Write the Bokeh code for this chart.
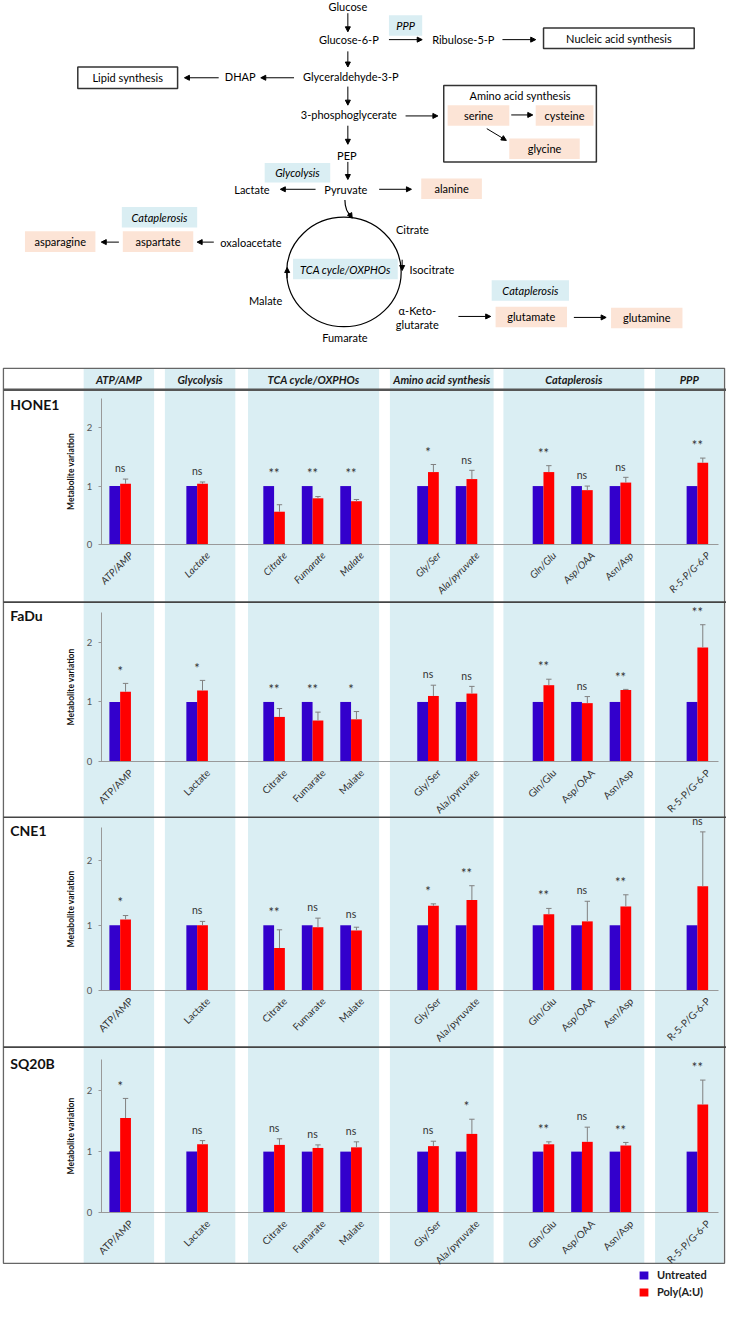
import math
from bokeh.plotting import figure
from bokeh.models import (Range1d, LinearAxis, FixedTicker, Arrow, NormalHead,
                          Legend, LegendItem)
from bokeh.core.properties import value
from bokeh.embed import file_html
from bokeh.resources import INLINE

# ---------------- data ----------------
cell_lines = ["HONE1", "FaDu", "CNE1", "SQ20B"]
group_names = ["ATP/AMP", "Glycolysis", "TCA cycle/OXPHOs",
               "Amino acid synthesis", "Cataplerosis", "PPP"]
group_members = [["ATP/AMP"], ["Lactate"], ["Citrate", "Fumarate", "Malate"],
                 ["Gly/Ser", "Ala/pyruvate"], ["Gln/Glu", "Asp/OAA", "Asn/Asp"],
                 ["R-5-P/G-6-P"]]
untreated = [1.0] * 11

hone1_polyau = [1.04, 1.04, 0.56, 0.79, 0.74, 1.24, 1.12, 1.24, 0.93, 1.06, 1.40]
hone1_err = [0.08, 0.03, 0.12, 0.03, 0.03, 0.13, 0.15, 0.11, 0.07, 0.09, 0.08]
hone1_sig = ["ns", "ns", "**", "**", "**", "*", "ns", "**", "ns", "ns", "**"]

fadu_polyau = [1.17, 1.19, 0.75, 0.69, 0.71, 1.10, 1.14, 1.28, 0.98, 1.20, 1.91]
fadu_err = [0.14, 0.17, 0.14, 0.14, 0.13, 0.18, 0.12, 0.10, 0.11, 0.01, 0.38]
fadu_sig = ["*", "*", "**", "**", "*", "ns", "ns", "**", "ns", "**", "**"]

cne1_polyau = [1.09, 1.00, 0.65, 0.97, 0.92, 1.30, 1.39, 1.17, 1.06, 1.29, 1.60]
cne1_err = [0.06, 0.06, 0.28, 0.14, 0.05, 0.03, 0.22, 0.09, 0.31, 0.18, 0.84]
cne1_sig = ["*", "ns", "**", "ns", "ns", "*", "**", "**", "ns", "**", "ns"]

sq20b_polyau = [1.55, 1.12, 1.11, 1.06, 1.07, 1.09, 1.29, 1.12, 1.16, 1.10, 1.77]
sq20b_err = [0.32, 0.06, 0.10, 0.05, 0.09, 0.08, 0.24, 0.04, 0.24, 0.05, 0.40]
sq20b_sig = ["*", "ns", "ns", "ns", "ns", "ns", "*", "**", "ns", "**", "**"]

y_ticks = [0, 1, 2]

polyau = [hone1_polyau, fadu_polyau, cne1_polyau, sq20b_polyau]
errs = [hone1_err, fadu_err, cne1_err, sq20b_err]
sigs = [hone1_sig, fadu_sig, cne1_sig, sq20b_sig]

# ---------------- layout constants (reference pixel space) ----------------
W_REF, H_REF = 742, 1329
FIG_W = 726
FIG_H = round(H_REF * FIG_W / W_REF)
SLOT0_X, SLOT_W = 122.3, 39.33
AXIS_X = 103
BW = 0.28
LABEL_SHIFT = 0.28
PANEL_BASE = [556, 778.3, 1011.7, 1239.3]
PANEL_UNIT = [59.6, 61.2, 66.3, 62.5]
PANEL_LABEL_Y = [413, 629, 849, 1087]
BAND_EDGES = [(85, 157), (168, 240), (253, 387), (398, 504), (514, 658), (669, 739)]
TABLE = (3, 740, 376, 1291)
HEADER_LINE = 398
SEPARATORS = [615, 835, 1070]
BAND_COLOR = "#DAEEF3"
PEACH = "#FCE4D6"
BLUE = "#3300CC"
RED = "#FF0000"
FONT = "Lato"

# slots: one empty slot between groups
metabolites, slots = [], []
s = 0
for gi, mem in enumerate(group_members):
    if gi > 0:
        s += 1
    for m in mem:
        metabolites.append(m)
        slots.append(s)
        s += 1

p = figure(width=FIG_W, height=FIG_H, x_range=Range1d(0, W_REF),
           y_range=Range1d(H_REF, 0), output_backend="svg", toolbar_location=None,
           x_axis_location=None, y_axis_location=None, min_border=0)
p.outline_line_color = None
p.grid.grid_line_color = None

p.extra_x_ranges = {"slots": Range1d((0 - SLOT0_X) / SLOT_W, (W_REF - SLOT0_X) / SLOT_W)}
for k in range(4):
    B, U = PANEL_BASE[k], PANEL_UNIT[k]
    p.extra_y_ranges[f"p{k}"] = Range1d((B - H_REF) / U, B / U)

# ---------------- diagram ----------------
def txt(x, y, t, size="11px", style="normal", align="center", color="#000000"):
    p.text(x=[x], y=[y], text=[t], text_font=value(FONT), text_font_size=size,
           text_font_style=style, text_align=align, text_baseline="middle",
           text_color=color)

def box(x0, x1, y0, y1, fill=None, line=None, lw=1.2):
    p.quad(left=[x0], right=[x1], top=[y0], bottom=[y1],
           fill_color=fill if fill else None, fill_alpha=1 if fill else 0,
           line_color=line, line_width=lw)

def arrow(x0, y0, x1, y1):
    p.add_layout(Arrow(end=NormalHead(size=5, fill_color="black", line_color="black",
                                      line_width=1),
                       x_start=x0, y_start=y0, x_end=x1, y_end=y1,
                       line_color="black", line_width=1))

nodes = [("Glucose", 355, 6), ("Glucose-6-P", 356, 40), ("Ribulose-5-P", 473, 40),
         ("Glyceraldehyde-3-P", 358, 78), ("DHAP", 245, 78),
         ("3-phosphoglycerate", 356, 117), ("PEP", 354, 158), ("Pyruvate", 353, 193),
         ("Lactate", 257, 193), ("Citrate", 421, 234), ("Isocitrate", 441, 275),
         ("Malate", 271, 307), ("Fumarate", 352, 345), ("oxaloacetate", 256, 247),
         ("α-Keto-", 426, 317), ("glutarate", 426, 331)]

blue_boxes = [("PPP", 397, 431, 15, 36), ("Glycolysis", 270, 337, 166, 186),
              ("Cataplerosis", 124, 201, 211, 232), ("TCA cycle/OXPHOs", 299, 406, 264, 285),
              ("Cataplerosis", 502, 581, 286, 307)]
peach_boxes = [("serine", 457, 520, 107, 128), ("cysteine", 547, 606, 107, 128),
               ("glycine", 520, 592, 141, 162), ("alanine", 430, 492, 182, 203),
               ("asparagine", 25, 97, 236, 257), ("aspartate", 125, 197, 236, 257),
               ("glutamate", 506, 579, 313, 334), ("glutamine", 624, 697, 314, 335)]
outline_boxes = [("Nucleic acid synthesis", 555, 709, 28, 49),
                 ("Lipid synthesis", 79, 181, 68, 90)]

for t, x0, x1, y0, y1 in blue_boxes:
    box(x0, x1, y0, y1, fill=BAND_COLOR)
    txt((x0 + x1) / 2, (y0 + y1) / 2, t, style="italic")
for t, x0, x1, y0, y1 in peach_boxes:
    box(x0, x1, y0, y1, fill=PEACH)
    txt((x0 + x1) / 2, (y0 + y1) / 2, t)
for t, x0, x1, y0, y1 in outline_boxes:
    box(x0, x1, y0, y1, line="#333333", lw=1.5)
    txt((x0 + x1) / 2, (y0 + y1) / 2, t)
box(453, 609, 87, 165, line="#333333", lw=1.5)
txt(531, 97, "Amino acid synthesis")
for t, x, y in nodes:
    txt(x, y, t)

arrows = [(355, 13, 355, 32), (397, 40, 431, 40), (513, 40, 547, 40),
          (355, 52, 355, 68), (300, 79, 266, 79), (223, 79, 188, 79),
          (355, 88, 355, 107), (414, 118, 447, 118), (522, 117, 544, 117),
          (497, 131, 517, 143), (355, 128, 355, 147), (355, 165, 355, 183),
          (322, 193, 286, 193), (387, 193, 420, 193), (218, 247, 201, 247),
          (121, 247, 103, 247), (468, 323, 501, 323), (586, 324, 619, 324)]
for a in arrows:
    arrow(*a)

# TCA cycle
p.ellipse(x=[351], y=[277.5], width=[117], height=[112], fill_color=None,
          line_color="black", line_width=1.2)
p.bezier(x0=[352], y0=[204], x1=[359], y1=[221], cx0=[352], cy0=[214], cx1=[355], cy1=[218],
         line_color="black", line_width=1.2)
arrow(356, 217, 359.5, 222.5)
arrow(410.5, 265, 410.5, 276)
arrow(293, 284, 293, 273)

# ---------------- table background ----------------
for x0, x1 in BAND_EDGES:
    box(x0, x1, TABLE[2], TABLE[3], fill=BAND_COLOR)
for (x0, x1), g in zip(BAND_EDGES, group_names):
    txt((x0 + x1) / 2, 387.5, g, size="11px", style="bold italic", color="#1a1a1a")

p.quad(left=[TABLE[0]], right=[TABLE[1]], top=[TABLE[2]], bottom=[TABLE[3]],
       fill_color=None, line_color="#666666", line_width=1.3)
p.segment(x0=[TABLE[0]], x1=[TABLE[1] + 2], y0=[HEADER_LINE], y1=[HEADER_LINE],
          line_color="#555555", line_width=2.5)
p.segment(x0=[TABLE[0]] * 3, x1=[TABLE[1] + 2] * 3, y0=SEPARATORS, y1=SEPARATORS,
          line_color="#444444", line_width=1.6)

# ---------------- bar panels ----------------
legend_rs = None
for k, name in enumerate(cell_lines):
    yr = f"p{k}"
    txt(10, PANEL_LABEL_Y[k], name, size="14px", style="bold", align="left", color="#111111")
    xb = [sl - BW / 2 for sl in slots]
    xr = [sl + BW / 2 for sl in slots]
    rb = p.vbar(x=xb, top=untreated, width=BW, fill_color=BLUE, line_color=None,
                x_range_name="slots", y_range_name=yr)
    rr = p.vbar(x=xr, top=polyau[k], width=BW, fill_color=RED, line_color=None,
                x_range_name="slots", y_range_name=yr)
    if legend_rs is None:
        legend_rs = (rb, rr)
    tops = [v + e for v, e in zip(polyau[k], errs[k])]
    p.segment(x0=xr, x1=xr, y0=polyau[k], y1=tops, line_color="#808080", line_width=1,
              x_range_name="slots", y_range_name=yr)
    p.segment(x0=[x - 0.07 for x in xr], x1=[x + 0.07 for x in xr], y0=tops, y1=tops,
              line_color="#808080", line_width=1, x_range_name="slots", y_range_name=yr)
    sizes = ["10.5px" if t == "ns" else "13px" for t in sigs[k]]
    p.text(x=slots, y=[max(1.0, t) + 0.08 for t in tops], text=sigs[k],
           text_font=value(FONT), text_font_size=sizes, text_align="center",
           text_baseline="bottom", text_color="#333333",
           x_range_name="slots", y_range_name=yr)

    yax = LinearAxis(y_range_name=yr, fixed_location=AXIS_X, bounds=(0, 2.5),
                     ticker=FixedTicker(ticks=y_ticks), axis_label="Metabolite variation")
    yax.axis_line_color = "#999999"
    yax.major_tick_line_color = "#999999"
    yax.major_tick_out = 3
    yax.major_tick_in = 0
    yax.minor_tick_line_color = None
    yax.major_label_text_font = FONT
    yax.major_label_text_font_size = "9.5px"
    yax.major_label_text_color = "#555555"
    yax.major_label_standoff = 6
    yax.axis_label_text_font = FONT
    yax.axis_label_text_font_size = "8.5px"
    yax.axis_label_text_font_style = "bold"
    yax.axis_label_text_color = "#111111"
    yax.axis_label_standoff = 8
    p.add_layout(yax, "left")

    # baseline axis; its (invisible) ticks sit a little right of each pair so that
    # the rotated labels end just right of the bars, as in the original chart
    label_ticks = [sl + LABEL_SHIFT for sl in slots]
    xax = LinearAxis(x_range_name="slots", y_range_name=yr, fixed_location=0,
                     bounds=(-0.5, 15.55), ticker=FixedTicker(ticks=label_ticks),
                     major_label_overrides={t: m for t, m in zip(label_ticks, metabolites)})
    xax.axis_line_color = "#999999"
    xax.major_tick_line_color = None
    xax.minor_tick_line_color = None
    xax.major_label_orientation = math.pi / 4
    xax.major_label_text_font = FONT
    xax.major_label_text_font_size = "10px"
    xax.major_label_text_color = "#333333"
    xax.major_label_standoff = 3
    if k == 0:
        xax.major_label_text_font_style = "italic"
    p.add_layout(xax, "below")

legend = Legend(items=[LegendItem(label="Untreated", renderers=[legend_rs[0]]),
                       LegendItem(label="Poly(A:U)", renderers=[legend_rs[1]])],
                location=(638, 2), padding=0, margin=0, spacing=4,
                glyph_height=10, glyph_width=11, label_height=10, label_standoff=8,
                background_fill_alpha=0, border_line_color=None,
                label_text_font=FONT, label_text_font_size="11px",
                label_text_font_style="bold", label_text_color="#222222")
p.add_layout(legend)

open("out.html", "w").write(file_html(p, INLINE))
